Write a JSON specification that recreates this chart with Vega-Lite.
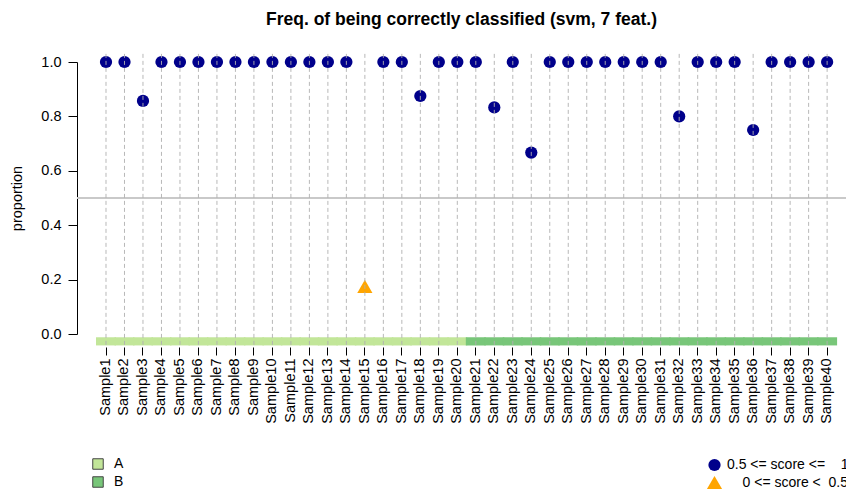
{
  "$schema": "https://vega.github.io/schema/vega-lite/v6.json",
  "width": 769,
  "height": 272,
  "padding": {"left": 77, "top": 62, "right": 0, "bottom": 158},
  "autosize": {"type": "none"},
  "background": "white",
  "config": {
    "view": {"stroke": null},
    "font": "Liberation Sans",
    "axis": {"labelFont": "Liberation Sans", "titleFont": "Liberation Sans", "labelColor": "#000", "titleColor": "#000", "tickColor": "#000", "domainColor": "#000"}
  },
  "title": {"text": "Freq. of being correctly classified (svm, 7 feat.)", "fontSize": 17.5, "fontWeight": "bold", "font": "Liberation Sans", "anchor": "middle", "offset": 22, "color": "#000"},
  "data": {"values": [
    {"sample": "Sample1", "group": "A", "p": 1.0, "cls": "hi"},
    {"sample": "Sample2", "group": "A", "p": 1.0, "cls": "hi"},
    {"sample": "Sample3", "group": "A", "p": 0.857, "cls": "hi"},
    {"sample": "Sample4", "group": "A", "p": 1.0, "cls": "hi"},
    {"sample": "Sample5", "group": "A", "p": 1.0, "cls": "hi"},
    {"sample": "Sample6", "group": "A", "p": 1.0, "cls": "hi"},
    {"sample": "Sample7", "group": "A", "p": 1.0, "cls": "hi"},
    {"sample": "Sample8", "group": "A", "p": 1.0, "cls": "hi"},
    {"sample": "Sample9", "group": "A", "p": 1.0, "cls": "hi"},
    {"sample": "Sample10", "group": "A", "p": 1.0, "cls": "hi"},
    {"sample": "Sample11", "group": "A", "p": 1.0, "cls": "hi"},
    {"sample": "Sample12", "group": "A", "p": 1.0, "cls": "hi"},
    {"sample": "Sample13", "group": "A", "p": 1.0, "cls": "hi"},
    {"sample": "Sample14", "group": "A", "p": 1.0, "cls": "hi"},
    {"sample": "Sample15", "group": "A", "p": 0.175, "cls": "lo"},
    {"sample": "Sample16", "group": "A", "p": 1.0, "cls": "hi"},
    {"sample": "Sample17", "group": "A", "p": 1.0, "cls": "hi"},
    {"sample": "Sample18", "group": "A", "p": 0.875, "cls": "hi"},
    {"sample": "Sample19", "group": "A", "p": 1.0, "cls": "hi"},
    {"sample": "Sample20", "group": "A", "p": 1.0, "cls": "hi"},
    {"sample": "Sample21", "group": "B", "p": 1.0, "cls": "hi"},
    {"sample": "Sample22", "group": "B", "p": 0.833, "cls": "hi"},
    {"sample": "Sample23", "group": "B", "p": 1.0, "cls": "hi"},
    {"sample": "Sample24", "group": "B", "p": 0.667, "cls": "hi"},
    {"sample": "Sample25", "group": "B", "p": 1.0, "cls": "hi"},
    {"sample": "Sample26", "group": "B", "p": 1.0, "cls": "hi"},
    {"sample": "Sample27", "group": "B", "p": 1.0, "cls": "hi"},
    {"sample": "Sample28", "group": "B", "p": 1.0, "cls": "hi"},
    {"sample": "Sample29", "group": "B", "p": 1.0, "cls": "hi"},
    {"sample": "Sample30", "group": "B", "p": 1.0, "cls": "hi"},
    {"sample": "Sample31", "group": "B", "p": 1.0, "cls": "hi"},
    {"sample": "Sample32", "group": "B", "p": 0.8, "cls": "hi"},
    {"sample": "Sample33", "group": "B", "p": 1.0, "cls": "hi"},
    {"sample": "Sample34", "group": "B", "p": 1.0, "cls": "hi"},
    {"sample": "Sample35", "group": "B", "p": 1.0, "cls": "hi"},
    {"sample": "Sample36", "group": "B", "p": 0.75, "cls": "hi"},
    {"sample": "Sample37", "group": "B", "p": 1.0, "cls": "hi"},
    {"sample": "Sample38", "group": "B", "p": 1.0, "cls": "hi"},
    {"sample": "Sample39", "group": "B", "p": 1.0, "cls": "hi"},
    {"sample": "Sample40", "group": "B", "p": 1.0, "cls": "hi"}
  ]},
  "layer": [
    {
      "mark": {"type": "rule", "color": "#c8c8c8", "strokeWidth": 1.5},
      "encoding": {"y": {"datum": 0.5, "type": "quantitative"}}
    },
    {
      "mark": {"type": "bar", "clip": false, "width": {"band": 1.08}},
      "encoding": {
        "x": {
          "field": "sample", "type": "nominal", "sort": null,
          "scale": {"type": "band", "paddingInner": 0, "paddingOuter": 0.795, "align": 0.672},
          "axis": {"title": null, "labelAngle": -90, "labelFontSize": 14.5, "labelPadding": 3, "tickSize": 8, "domain": false, "offset": 13, "grid": false, "bandPosition": 0.5, "labelBaseline": "middle", "labelAlign": "right"}
        },
        "y": {"datum": -0.012, "type": "quantitative"},
        "y2": {"datum": -0.042},
        "fill": {"field": "group", "type": "nominal", "scale": {"domain": ["A", "B"], "range": ["#c2e699", "#78c679"]},
          "legend": {"title": null, "orient": "none", "legendX": 14, "legendY": 395, "symbolType": "square", "symbolSize": 110, "symbolStrokeColor": "#444", "symbolStrokeWidth": 1, "labelFontSize": 14, "labelFont": "Liberation Sans", "labelColor": "#000", "rowPadding": 2, "labelOffset": 9}}
      }
    },
    {
      "mark": {"type": "point", "filled": true, "opacity": 1},
      "encoding": {
        "x": {"field": "sample", "type": "nominal", "sort": null},
        "y": {"field": "p", "type": "quantitative", "scale": {"domain": [0, 1]},
          "axis": {"title": "proportion", "titleFontSize": 14.5, "titleFontWeight": "normal", "titlePadding": 16, "labelFontSize": 14.5, "values": [0, 0.2, 0.4, 0.6, 0.8, 1.0], "format": ".1f", "tickSize": 9, "grid": false, "labelPadding": 7}},
        "color": {"field": "cls", "type": "nominal", "scale": {"domain": ["hi", "lo"], "range": ["#00008B", "#FFA500"]},
          "legend": {"title": null, "orient": "none", "legendX": 629, "legendY": 396, "labelLimit": 400, "labelExpr": "datum.value == 'hi' ? '0.5 <= score <=\u00a0\u00a0\u00a0\u00a01' : '\u200b\u00a0\u00a0\u00a0\u00a00 <= score <\u00a0\u00a00.5'", "labelFontSize": 14, "labelFont": "Liberation Sans", "labelColor": "#000", "rowPadding": 2, "labelOffset": 4}},
        "shape": {"field": "cls", "type": "nominal", "scale": {"domain": ["hi", "lo"], "range": ["circle", "triangle-up"]}, "legend": null},
        "size": {"field": "cls", "type": "nominal", "scale": {"domain": ["hi", "lo"], "range": [150, 230]}, "legend": null}
      }
    },
    {
      "mark": {"type": "rule", "color": "#b0b0b0", "strokeDash": [4, 3], "strokeWidth": 1, "opacity": 0.9},
      "encoding": {
        "x": {"field": "sample", "type": "nominal", "sort": null},
        "y": {"datum": -0.04, "type": "quantitative"},
        "y2": {"datum": 1.04}
      }
    }
  ]
}
